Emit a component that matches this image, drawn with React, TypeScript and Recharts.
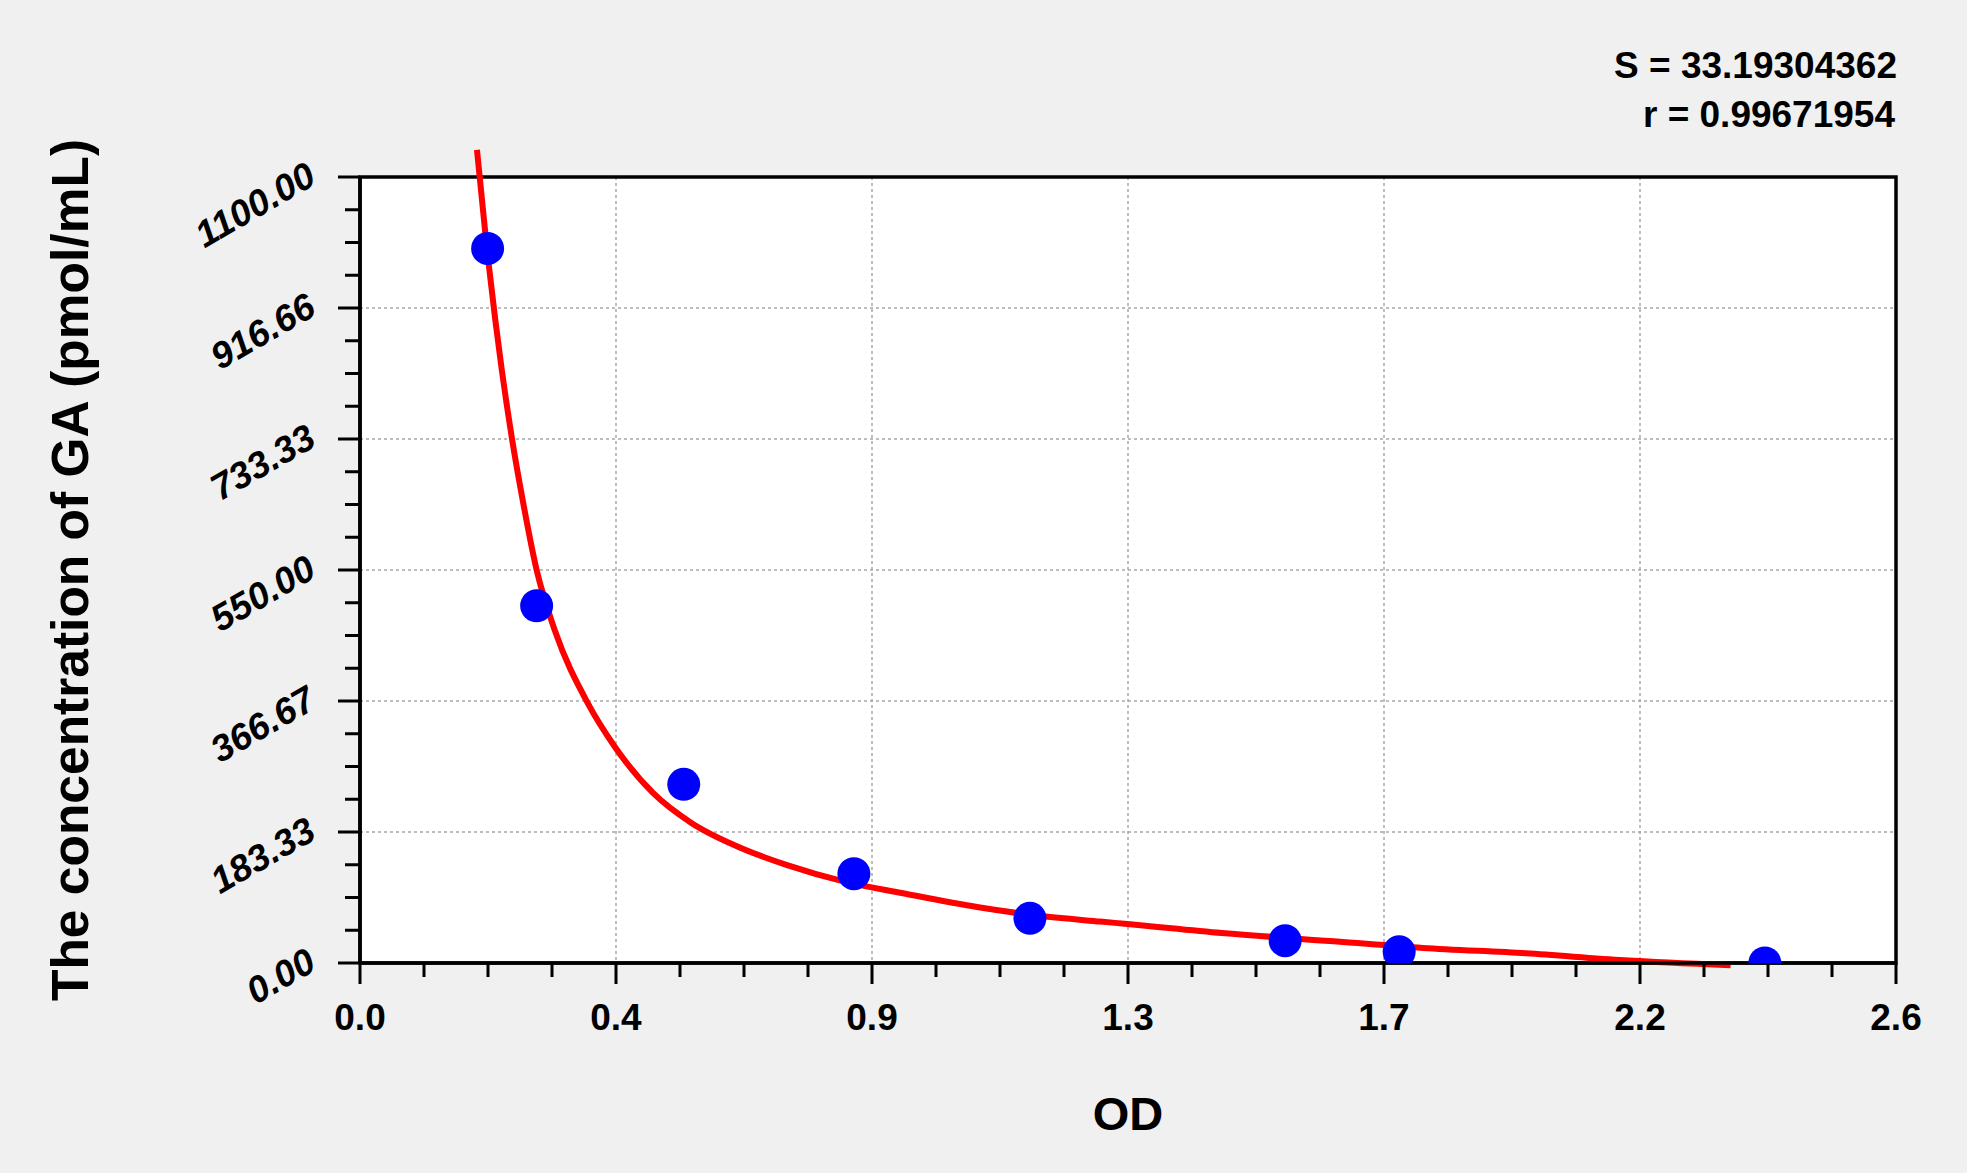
import React from 'react';
import {
  ComposedChart,
  Line,
  Scatter,
  XAxis,
  YAxis,
  CartesianGrid,
  ReferenceArea,
} from 'recharts';

// Standard points (OD vs concentration)
const standardOD = [0.216, 0.299, 0.548, 0.836, 1.134, 1.566, 1.759, 2.378];
const standardConc = [1000, 500, 250, 125, 62.5, 31.25, 15.625, 0];

// Fitted curve
const curveOD = [
  0.198, 0.215, 0.229, 0.24, 0.257, 0.276, 0.299, 0.33, 0.386, 0.431, 0.496, 0.561, 0.639,
  0.723, 0.82, 0.917, 1.047, 1.15, 1.253, 1.294, 1.459, 1.654, 1.799, 1.974, 2.14, 2.32,
];
const curveConc = [
  1138, 998, 900, 830, 735, 645, 550, 465, 363, 303, 238, 196, 163, 137, 114, 98, 78, 66, 58,
  55, 42, 30, 21, 13.5, 4, -3,
];

// Axes
const xMajorTicks = [0, 0.43333, 0.86667, 1.3, 1.73333, 2.16667, 2.6];
const xTickLabels = ['0.0', '0.4', '0.9', '1.3', '1.7', '2.2', '2.6'];
const yMajorTicks = [0, 183.333, 366.667, 550, 733.333, 916.667, 1100];
const yTickLabels = ['0.00', '183.33', '366.67', '550.00', '733.33', '916.66', '1100.00'];
const xTitle = 'OD';
const yTitle = 'The concentration of GA (pmol/mL)';
const statLines = ['S = 33.19304362', 'r = 0.99671954'];

const withMinors = (majors: number[]) => {
  const out: number[] = [];
  for (let i = 0; i < majors.length; i++) {
    out.push(majors[i]);
    if (i < majors.length - 1) {
      const step = (majors[i + 1] - majors[i]) / 4;
      for (let k = 1; k < 4; k++) out.push(majors[i] + step * k);
    }
  }
  return out;
};
const xAllTicks = withMinors(xMajorTicks);
const yAllTicks = withMinors(yMajorTicks);

const curveData = curveOD.map((x, i) => ({ x, y: curveConc[i] }));
const pointData = standardOD.map((x, i) => ({ x, y: standardConc[i] }));

const FONT = '"Liberation Sans", Arial, Helvetica, sans-serif';
const W = 1967;
const H = 1173;

const findMajor = (arr: number[], v: number) => arr.findIndex((m) => Math.abs(m - v) < 1e-3);

const XTick = (props: any) => {
  const { x, y, payload } = props;
  const idx = findMajor(xMajorTicks, payload.value);
  const major = idx >= 0;
  return (
    <g>
      <line x1={x} x2={x} y1={y} y2={y + (major ? 21 : 14)} stroke="#000" strokeWidth={3} />
      {major && (
        <text x={x} y={y + 67} textAnchor="middle" fontFamily={FONT} fontWeight="bold" fontSize={37} fill="#000">
          {xTickLabels[idx]}
        </text>
      )}
    </g>
  );
};

const YTick = (props: any) => {
  const { x, y, payload } = props;
  const idx = findMajor(yMajorTicks, payload.value);
  const major = idx >= 0;
  const tx = x - 42;
  const ty = y + 6;
  return (
    <g>
      <line x1={x - (major ? 22 : 15)} x2={x} y1={y} y2={y} stroke="#000" strokeWidth={3} />
      {major && (
        <text
          x={tx}
          y={ty}
          textAnchor="end"
          transform={`rotate(-30 ${tx} ${ty})`}
          fontFamily={FONT}
          fontWeight="bold"
          fontStyle="italic"
          fontSize={37}
          fill="#000"
        >
          {yTickLabels[idx]}
        </text>
      )}
    </g>
  );
};

export default function App() {
  return (
    <div style={{ position: 'absolute', left: 0, top: 0, width: W, height: H, background: '#f0f0f0' }}>
      <style>{'.recharts-line, .recharts-line * { clip-path: none !important; }'}</style>
      <ComposedChart width={W} height={H} margin={{ top: 177, right: 71, bottom: 0, left: 0 }}>
        <CartesianGrid
          fill="#ffffff"
          fillOpacity={1}
          stroke="#a8a8a8"
          strokeWidth={1.5}
          strokeDasharray="3 3"
          horizontalValues={yMajorTicks}
          verticalValues={xMajorTicks}
        />
        <XAxis
          type="number"
          dataKey="x"
          domain={[0, 2.6]}
          ticks={xAllTicks}
          interval={0}
          height={210}
          tickSize={0}
          tickMargin={0}
          tickLine={false}
          tick={<XTick />}
          axisLine={{ stroke: '#000', strokeWidth: 3.5 }}
          allowDataOverflow
          label={{
            content: () => (
              <text x={1128} y={1130} textAnchor="middle" fontFamily={FONT} fontWeight="bold" fontSize={47} fill="#000">
                {xTitle}
              </text>
            ),
          }}
        />
        <YAxis
          type="number"
          dataKey="y"
          domain={[0, 1100]}
          ticks={yAllTicks}
          interval={0}
          width={360}
          tickSize={0}
          tickMargin={0}
          tickLine={false}
          tick={<YTick />}
          axisLine={{ stroke: '#000', strokeWidth: 3.5 }}
          allowDataOverflow
          label={{
            content: () => (
              <text
                x={88}
                y={570}
                textAnchor="middle"
                transform="rotate(-90 88 570)"
                fontFamily={FONT}
                fontWeight="bold"
                fontSize={51.5}
                fill="#000"
              >
                {yTitle}
              </text>
            ),
          }}
        />
        <ReferenceArea x1={0} x2={2.6} y1={0} y2={1100} fill="none" fillOpacity={0} stroke="#000" strokeWidth={3.5} />
        <Scatter
          data={pointData}
          dataKey="y"
          isAnimationActive={false}
          shape={(p: any) => <circle cx={p.cx} cy={p.cy} r={16.5} fill="#0000ff" />}
        />
        <Line
          data={curveData}
          dataKey="y"
          type="monotone"
          stroke="#ff0000"
          strokeWidth={6}
          dot={false}
          activeDot={false}
          isAnimationActive={false}
        />
      </ComposedChart>
      <svg
        width={W}
        height={H}
        style={{ position: 'absolute', left: 0, top: 0, pointerEvents: 'none' }}
      >
        <text x={1897} y={78} textAnchor="end" fontFamily={FONT} fontWeight="bold" fontSize={37} fill="#000">
          {statLines[0]}
        </text>
        <text x={1895} y={127} textAnchor="end" fontFamily={FONT} fontWeight="bold" fontSize={37} fill="#000">
          {statLines[1]}
        </text>
      </svg>
    </div>
  );
}
